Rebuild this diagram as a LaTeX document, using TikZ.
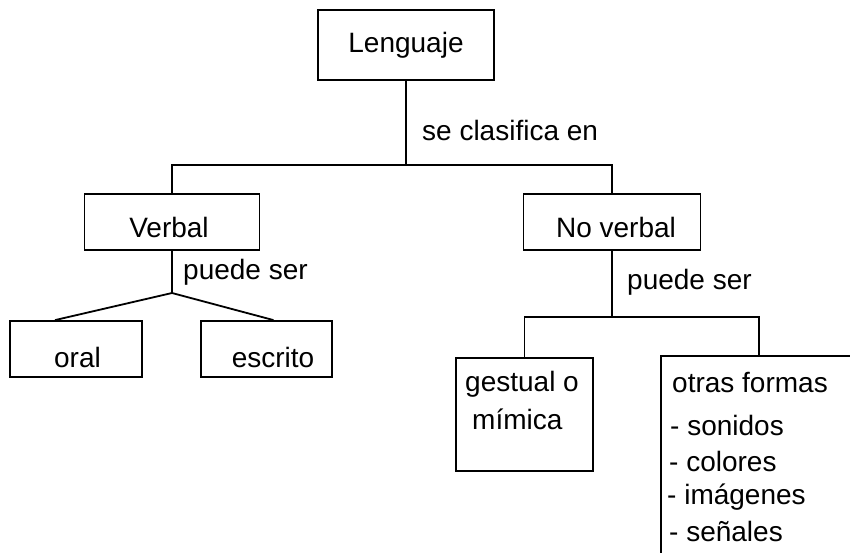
\documentclass[tikz,border=0pt]{standalone}
\usepackage{fontspec}
\setmainfont{Liberation Sans}
\usetikzlibrary{calc}

\tikzset{
  caja/.style={draw, line width=1.8pt, inner sep=0pt},
  texto/.style={font=\fontsize{28}{34}\selectfont, inner sep=0pt},
  rama/.style={line width=1.8pt}
}

\begin{document}
\begin{tikzpicture}[x=1pt, y=-1pt]
		
		\useasboundingbox (0,0) rectangle (850,553);
		\clip (0,0) rectangle (850,553);
		
		% Cajas
		\node[caja, texto, minimum width=176pt, minimum height=70pt] (leng) at (406,45) {Lenguaje};
		\node[caja, minimum width=175pt, minimum height=56pt] (verbal) at (172,222) {};
		\node[caja, minimum width=177pt, minimum height=56pt] (noverbal) at (612,222) {};
		\node[caja, minimum width=132pt, minimum height=56pt] (oral) at (76,349) {};
		\node[caja, minimum width=131pt, minimum height=56pt] (escrito) at (266.5,349) {};
		\node[caja, minimum width=137pt, minimum height=113pt] (gestual) at (524.5,414.5) {};
		\node[caja, minimum width=260pt, minimum height=260pt, anchor=north west] (otras) at (660,355) {};
		
		% Textos de las cajas
		\node[texto] (verbaltxt) at (169,227) {Verbal};
		\node[texto] (noverbaltxt) at (616,227) {No verbal};
		\node[texto] (oraltxt) at (77.5,357) {oral};
		\node[texto] (escritotxt) at (273,357) {escrito};
		\node[texto, anchor=west] (gest1) at (465,384) {gestual o};
		\node[texto, anchor=west] (gest2) at (472,419) {mímica};
		\node[texto, anchor=west] (otras0) at (672,383) {otras formas};
		\foreach \y/\x/\t in {425/670/sonidos, 461/669/colores, 497/667/imágenes, 531/669/señales} {
			\node[texto, anchor=west] at (\x,\y) {- \t};
		}
		
		% Conectores
		\coordinate (bus1) at (leng.south |- 0,165);
		\coordinate (bus2) at (noverbal.south |- 0,317);
		\coordinate (nodo) at (verbal.south |- 0,293);
		\draw[rama] (leng.south) -- (bus1);
		\draw[rama] (verbal.north) -- (verbal.north |- bus1) -- (noverbal.north |- bus1) -- (noverbal.north);
		\draw[rama] (verbal.south) -- (nodo);
		\draw[rama] ($(oral.north)+(-21,0)$) -- (nodo) -- ($(escrito.north)+(7,0)$);
		\draw[rama] (noverbal.south) -- (bus2);
		\draw[rama] (gestual.north) -- (gestual.north |- bus2) -- (bus2 -| 759,0) -- (759,355);
		
		% Etiquetas
		\node[texto, anchor=west] (clasif) at (422,130) {se clasifica en};
		\node[texto, anchor=west] (puede1) at (183,272) {puede ser};
		\node[texto, anchor=west] (puede2) at (627,282) {puede ser};
		
\end{tikzpicture}
\end{document}
